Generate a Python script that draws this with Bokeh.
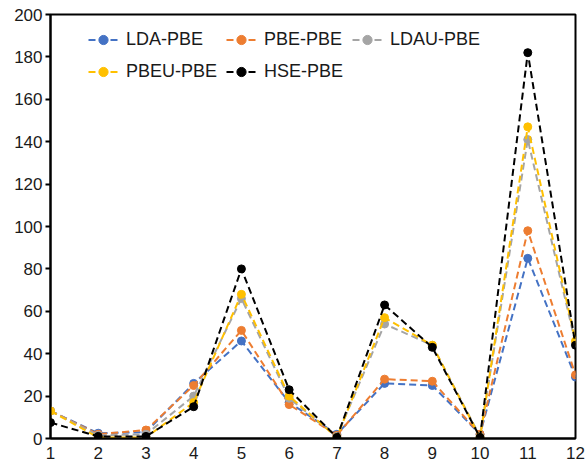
from bokeh.plotting import figure
from bokeh.models import Range1d, Legend, LegendItem, FixedTicker
from bokeh.embed import file_html
from bokeh.resources import INLINE

x = [1, 2, 3, 4, 5, 6, 7, 8, 9, 10, 11, 12]
lda_pbe = [13, 2.5, 3, 26, 46, 17, 2, 26, 25, 2, 85, 29]
pbe_pbe = [13, 2, 4, 25, 51, 16, 1.5, 28, 27, 2, 98, 30]
ldau_pbe = [13, 1.5, 2, 20, 66, 19, 1, 54, 44, 1, 141, 45]
pbeu_pbe = [13, 0.5, 0.5, 17, 68, 20, 0.5, 57, 44, 0.5, 147, 46]
hse_pbe = [7.5, 1, 1, 15, 80, 23, 0.5, 63, 43, 0.5, 182, 44]

series = [
    ("LDA-PBE", lda_pbe, "#4472C4"),
    ("PBE-PBE", pbe_pbe, "#ED7D31"),
    ("LDAU-PBE", ldau_pbe, "#A5A5A5"),
    ("PBEU-PBE", pbeu_pbe, "#FFC000"),
    ("HSE-PBE", hse_pbe, "#000000"),
]

p = figure(width=585, height=463, output_backend="svg", toolbar_location=None,
           x_range=Range1d(1, 12), y_range=Range1d(0, 200),
           min_border_left=50, min_border_right=10, min_border_top=14, min_border_bottom=25)

p.grid.visible = False
p.outline_line_color = "black"
p.outline_line_width = 2
p.background_fill_color = "white"
p.border_fill_color = "white"

font = "Liberation Sans"
for ax in (p.xaxis[0], p.yaxis[0]):
    ax.axis_line_color = "black"
    ax.axis_line_width = 2
    ax.major_label_text_font = font
    ax.major_label_text_font_size = "17px"
    ax.major_label_text_color = "#1a1a1a"
    ax.minor_tick_line_color = None

p.xaxis.ticker = FixedTicker(ticks=x)
p.xaxis.major_tick_line_color = None
p.xaxis.major_label_standoff = 2
p.yaxis.ticker = FixedTicker(ticks=list(range(0, 201, 20)))
p.yaxis.major_tick_out = 5
p.yaxis.major_tick_in = 0
p.yaxis.major_tick_line_width = 2
p.yaxis.major_label_standoff = 3

items = []
for name, ys, color in series:
    ln = p.line(x, ys, line_color=color, line_width=2, line_dash="7 4")
    sc = p.scatter(x, ys, size=8, fill_color=color, line_color=color)
    items.append(LegendItem(label=name, renderers=[ln, sc]))

legend = Legend(items=items, location=(38, 355), ncols=3, orientation="horizontal",
                border_line_color=None, background_fill_alpha=0,
                label_text_font=font, label_text_font_size="18px",
                label_text_color="#1a1a1a",
                label_height=23, glyph_height=23,
                glyph_width=30, spacing=9, padding=0, margin=0,
                label_standoff=8)
p.add_layout(legend)

open("out.html", "w").write(file_html(p, INLINE))
